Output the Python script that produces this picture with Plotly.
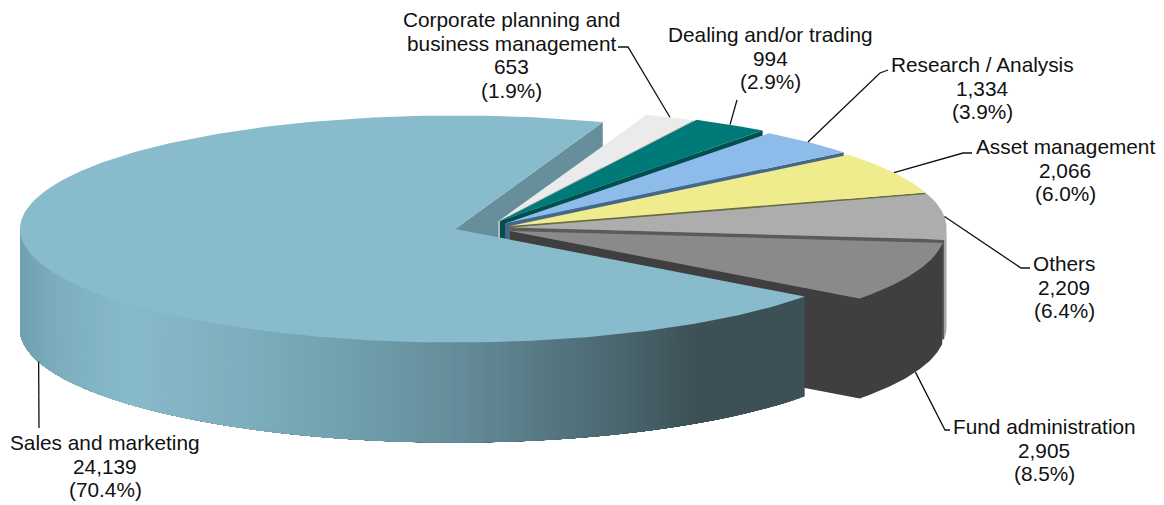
import math
import plotly.graph_objects as go

# Staff headcount by function
categories = ["Sales and marketing", "Corporate planning and<br>business management",
              "Dealing and/or trading", "Research / Analysis", "Asset management",
              "Others", "Fund administration"]
values = [24139, 653, 994, 1334, 2066, 2209, 2905]

# Colours for each slice: top surface and cut face
top_colors = ["#88BBCC", "#EBEBEB", "#007A78", "#8DBCEB", "#EEEC8D", "#ADADAD", "#8A8A8A"]
face_colors = ["#678F9B", "#B9B9B9", "#004F4E", "#46678A", "#6B6B3C", "#5A5A5A", "#3F3F3F"]

# Projection of the disc: slice centres (exploded), radii, thickness
centers = [(455, 229), (498, 221.5), (500, 221), (505, 223.5), (510, 226), (511.5, 227.5), (510, 231)]
RX, RY, DEPTH = 435, 113.5, 100
START_ANGLE = -36.5

# Label centres and leader elbows
label_pos = [(105, 466), (511, 55), (770, 58), (982, 88), (1065, 170), (1064, 287), (1044, 450)]
leader_elbows = [[(39, 428)], [(628, 47), (618, 47)], [(737, 100)], [(880, 73), (888, 70)],
                 [(963, 153), (972, 153)], [(1021, 268), (1030, 268)], [(945, 430), (950, 430)]]
leader_on_lower_rim = [True, False, False, False, False, False, True]
LINE_GAP = 23.7

# Shading of the outer wall of the large slice, by screen x
WALL_STOPS = [(20, (112, 161, 176)), (60, (124, 174, 190)), (130, (135, 186, 202)),
              (237, (126, 175, 190)), (352, (112, 160, 173)), (467, (100, 138, 152)),
              (581, (80, 112, 122)), (700, (61, 80, 86)), (803, (60, 80, 86))]

total = sum(values)


def rim(center, t, drop=0.0):
    a = math.radians(t)
    return center[0] + RX * math.cos(a), center[1] - RY * math.sin(a) + drop


def wall_color(x):
    for (x0, c0), (x1, c1) in zip(WALL_STOPS, WALL_STOPS[1:]):
        if x <= x1:
            f = max(0.0, (x - x0) / (x1 - x0))
            return "rgb(%d,%d,%d)" % tuple(round(a + (b - a) * f) for a, b in zip(c0, c1))
    return "rgb(%d,%d,%d)" % WALL_STOPS[-1][1]


fig = go.Figure()


def polygon(points, color):
    xs = [p[0] for p in points]
    ys = [p[1] for p in points]
    fig.add_trace(go.Scatter(x=xs + xs[:1], y=ys + ys[:1], mode="lines", fill="toself",
                             fillcolor=color, line=dict(color=color, width=0),
                             hoverinfo="skip", showlegend=False))


def arc(center, t0, t1, drop=0.0, steps=60):
    return [rim(center, t0 + (t1 - t0) * i / steps, drop) for i in range(steps + 1)]


# Slice angles run clockwise from the start angle; small slices wrap back to the upper right
spans = []
t = START_ANGLE
for i, v in enumerate(values):
    sweep = v / total * 360
    if i == 1:
        t += 360
    spans.append((t, t - sweep))
    t -= sweep


def cut_face_points(center, t):
    outer = rim(center, t)
    return [center, outer, (outer[0], outer[1] + DEPTH), (center[0], center[1] + DEPTH)]


# Far cut face of the large slice sits behind everything
polygon(cut_face_points(centers[0], spans[0][1] + 360), face_colors[0])

# Small slices, back to front
last = len(values) - 1
for i in range(1, len(values)):
    t0, t1 = spans[i]
    c = centers[i]
    face = cut_face_points(c, t1)
    upper = min(t0, 0)
    if i == last:
        # Fund administration: wall and cut face share one shade, so draw them as one outline
        outer = rim(c, t1)
        polygon([c] + [outer] + arc(c, t1, upper)[1:] + arc(c, upper, t1, DEPTH) +
                [(c[0], c[1] + DEPTH)], face_colors[i])
    else:
        polygon(face, face_colors[i])
        if t1 < 0:
            polygon(arc(c, upper, t1) + arc(c, t1, upper, DEPTH), "#A2A2A2")
    polygon([c] + arc(c, t0, t1), top_colors[i])

# Outer wall of the large slice: each band runs on to the far end, so later bands paint over it
t0 = spans[0][0]
BANDS = 130
for k in range(BANDS):
    a = t0 + (-180 - t0) * k / BANDS
    b = t0 + (-180 - t0) * (k + 1) / BANDS
    x_mid = rim(centers[0], (a + b) / 2)[0]
    polygon(arc(centers[0], a, -180, steps=40) + arc(centers[0], -180, a, DEPTH, steps=40),
            wall_color(x_mid))

# Top of the large slice
polygon([centers[0]] + arc(centers[0], spans[0][0], spans[0][1], steps=240), top_colors[0])

# Leader lines and labels
for i, cat in enumerate(categories):
    mid = sum(spans[i]) / 2
    start = rim(centers[i], mid, DEPTH if leader_on_lower_rim[i] else 0)
    pts = [start] + leader_elbows[i]
    fig.add_trace(go.Scatter(x=[p[0] for p in pts], y=[p[1] for p in pts], mode="lines",
                             line=dict(color="#111111", width=1.3),
                             hoverinfo="skip", showlegend=False))
    lines = cat.split("<br>") + [f"{values[i]:,}", f"({values[i] / total * 100:.1f}%)"]
    for n, line in enumerate(lines):
        fig.add_annotation(x=label_pos[i][0],
                           y=label_pos[i][1] + (n - (len(lines) - 1) / 2) * LINE_GAP,
                           xref="x", yref="y", text=line, showarrow=False,
                           font=dict(family="Liberation Sans", size=20.8, color="#111111"))

fig.update_layout(width=1164, height=505, autosize=False,
                  margin=dict(l=0, r=0, t=0, b=0),
                  paper_bgcolor="white", plot_bgcolor="white",
                  xaxis=dict(range=[0, 1164], visible=False, fixedrange=True),
                  yaxis=dict(range=[505, 0], visible=False, fixedrange=True))

fig.write_html("out.html")
